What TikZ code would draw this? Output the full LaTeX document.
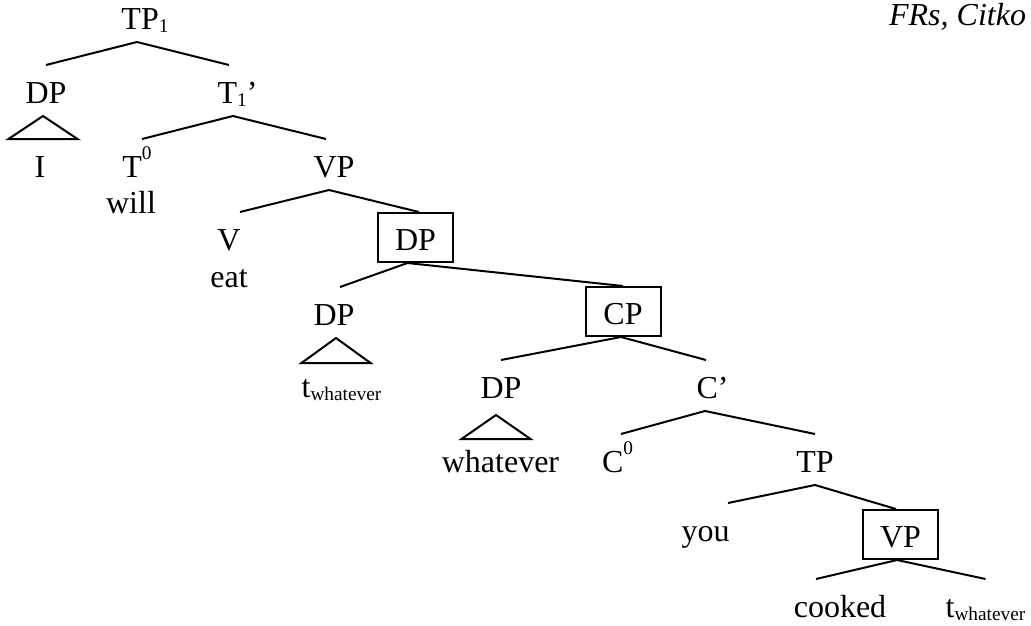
\documentclass[tikz,border=0pt]{standalone}
\usepackage{fontspec}
\setmainfont{Liberation Serif}
\newcommand{\lo}[1]{\raisebox{-2.6pt}{\fontsize{14.5}{14.5}\selectfont #1}}
\newcommand{\hi}[1]{\raisebox{13.5pt}{\fontsize{14.5}{14.5}\selectfont #1}}

\begin{document}
\begin{tikzpicture}[x=0.75pt,y=-0.75pt,line width=1.5pt,
every node/.style={font=\fontsize{24}{28}\selectfont},
cat/.style={anchor=base, inner xsep=0pt, inner ysep=0pt, text height=27.75pt, text depth=9pt},
boxed/.style={cat, draw, minimum width=56.25pt},
word/.style={anchor=base, inner sep=0pt},]
\useasboundingbox (0,0) rectangle (1031,625);

\node[cat](tp1) at (145,29){TP\lo{1}};
\node[cat](dp1) at (46,103){DP};
\node[cat](t1bar) at (237.5,103){T\lo{1}’};
\node[word](pron) at (40,177){I};
\node[cat](t0) at (137,177){T\hi{0}};
\node[word](will) at (131,213){will};
\node[cat](vp1) at (334,177){VP};
\node[cat](v) at (229,250){V};
\node[word](eat) at (229,287){eat};
\node[boxed](dpbox) at (415.5,250){DP};
\node[cat](dp2) at (334,325){DP};
\node[word](trace1) at (341.5,397){t\lo{whatever}};
\node[boxed](cpbox) at (623,324){CP};
\node[cat](dp3) at (501,398){DP};
\node[word](whatever) at (500.5,472){whatever};
\node[cat](cbar) at (712.5,398){C’};
\node[cat](c0) at (617.5,472){C\hi{0}};
\node[cat](tp2) at (815,472){TP};
\node[cat](you) at (705.5,541){you};
\node[boxed](vpbox) at (900.5,547){VP};
\node[cat](cooked) at (840,617){cooked};
\node[cat](trace2) at (985.5,617){t\lo{whatever}};
\node[word, anchor=base east](source) at (1027,25){\itshape FRs, Citko};

% branches
\draw (dp1.north) -- ([xshift=-6pt]tp1.south) -- ([xshift=-6.4pt]t1bar.north);
\draw ([xshift=3.75pt]t0.north) -- ([xshift=-3.4pt]t1bar.south) -- ([xshift=-6pt]vp1.north);
\draw ([xshift=8.25pt]v.north) -- ([xshift=-3.75pt]vp1.south) -- ([xshift=2.6pt]dpbox.north);
\draw ([xshift=4.5pt]dp2.north) -- ([xshift=-6pt]dpbox.south) -- (cpbox.north);
\draw (dp3.north) -- ([xshift=-1.5pt]cpbox.south) -- ([xshift=-4.9pt]cbar.north);
\draw ([xshift=2.6pt]c0.north) -- ([xshift=-5.6pt]cbar.south) -- (tp2.north);
\draw ([xshift=16.9pt]you.north) -- (tp2.south) -- ([xshift=-3.4pt]vpbox.north);
\draw ([xshift=-18pt]cooked.north) -- ([xshift=-2.6pt]vpbox.south) -- (trace2.north);

% triangles
\draw ([xshift=-2.25pt]dp1.south) -- ++(-34.5,23) -- ++(69,0) -- cycle;
\draw ([xshift=1.5pt]dp2.south) -- ++(-34.5,25) -- ++(69,0) -- cycle;
\draw ([xshift=-3.75pt,yshift=-3pt]dp3.south) -- ++(-34.5,24) -- ++(69,0) -- cycle;
\end{tikzpicture}
\end{document}
